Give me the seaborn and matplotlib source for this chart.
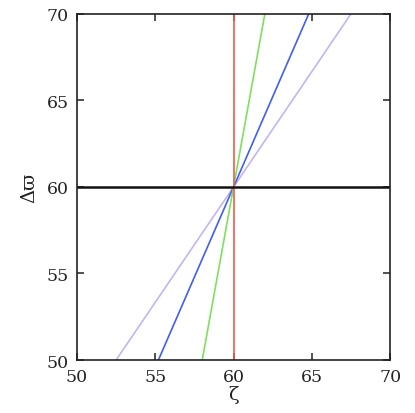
import matplotlib
matplotlib.use("Agg")
import matplotlib.pyplot as plt
import numpy as np
import pandas as pd
import seaborn as sns

# line endpoints (zeta, delta varpi)
GREEN_X = [58.0, 62.0]
GREEN_Y = [50.0, 70.0]
BLUE_X = [55.2, 64.8]
BLUE_Y = [50.0, 70.0]
PURPLE_X = [52.5, 67.5]
PURPLE_Y = [50.0, 70.0]
RED_X = [60.0, 60.0]
RED_Y = [50.0, 70.0]
BLACK_X = [50.0, 70.0]
BLACK_Y = [60.0, 60.0]

TICKS = [50, 55, 60, 65, 70]

sns.set_style("ticks")
plt.rcParams["font.family"] = ["DejaVu Serif"]
plt.rcParams["mathtext.fontset"] = "dejavuserif"

DPI = 100
fig = plt.figure(figsize=(4.15, 4.14), dpi=DPI)
ax = fig.add_axes([0.1855, 0.128, 0.7545, 0.836])

series = [
    ("purple", PURPLE_X, PURPLE_Y, "#c4b4f4", 1.2),
    ("blue", BLUE_X, BLUE_Y, "#3f5ff0", 1.2),
    ("green", GREEN_X, GREEN_Y, "#7ee05c", 1.2),
    ("red", RED_X, RED_Y, "#f05a48", 1.2),
    ("black", BLACK_X, BLACK_Y, "#111111", 1.8),
]
for name, xs, ys, color, lw in series:
    df = pd.DataFrame({"x": xs, "y": ys})
    sns.lineplot(data=df, x="x", y="y", ax=ax, color=color, linewidth=lw,
                 sort=False, estimator=None)

ax.set_xlim(50, 70)
ax.set_ylim(50, 70)
ax.set_xticks(TICKS)
ax.set_yticks(TICKS)
ax.tick_params(direction="in", length=5, width=1.1, top=True, right=True,
               labelsize=12.5, colors="#222222", pad=6)
for sp in ax.spines.values():
    sp.set_linewidth(1.2)
    sp.set_color("#222222")

ax.set_xlabel("ζ", fontsize=14, labelpad=0, color="#222222")
ax.set_ylabel("Δϖ", fontsize=14, labelpad=6, color="#222222")

fig.savefig("out.png", dpi=DPI)
